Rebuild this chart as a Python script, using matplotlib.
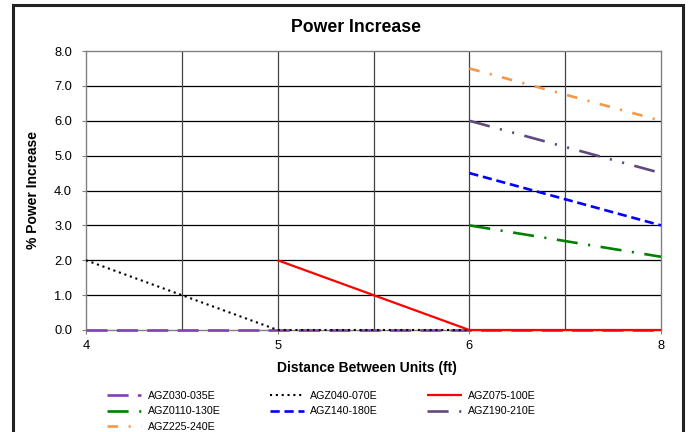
import matplotlib
matplotlib.use("Agg")
import matplotlib.pyplot as plt
import numpy as np
from matplotlib.patches import Rectangle

plt.rcParams['font.family'] = ['Liberation Sans', 'DejaVu Sans']

# category axis (Excel style), labels shown every second category
categories = ["4", "4.5", "5", "5.5", "6", "7", "8"]
nan = np.nan
agz030_035 = [0, 0, 0, 0, 0, 0, 0]
agz040_070 = [2.0, 1.0, 0, 0, 0, nan, nan]
agz075_100 = [nan, nan, 2.0, 1.0, 0, 0, 0]
agz0110_130 = [nan, nan, nan, nan, 3.0, 2.55, 2.1]
agz140_180 = [nan, nan, nan, nan, 4.5, 3.75, 3.0]
agz190_210 = [nan, nan, nan, nan, 6.0, 5.25, 4.5]
agz225_240 = [nan, nan, nan, nan, 7.5, 6.75, 6.0]

W, H = 688, 432
fig = plt.figure(figsize=(W / 100, H / 100), dpi=100)
ax = fig.add_axes([86 / W, 1 - 330 / H, (661 - 86) / W, (330 - 51) / H])

x = np.arange(len(categories))

series = [
    ("AGZ030-035E", agz030_035, dict(color='#7F40B0', lw=1.9, dashes=(8, 3.5))),
    ("AGZ040-070E", agz040_070, dict(color='black', lw=1.5, dashes=(1, 1.8))),
    ("AGZ075-100E", agz075_100, dict(color='#FF0000', lw=1.6)),
    ("AGZ0110-130E", agz0110_130, dict(color='#008000', lw=1.9, dashes=(8, 4, 0.8, 4))),
    ("AGZ140-180E", agz140_180, dict(color='#0000FF', lw=1.9, dashes=(3.5, 1.8))),
    ("AGZ190-210E", agz190_210, dict(color='#604A7B', lw=1.9, dashes=(8, 4, 0.8, 4, 0.8, 4))),
    ("AGZ225-240E", agz225_240, dict(color='#F79646', lw=1.9, dashes=(4, 4, 0.8, 4))),
]

handles = {}
for name, vals, style in series:
    ln, = ax.plot(x, vals, label=name, solid_capstyle='butt', dash_capstyle='butt',
                  clip_on=False, zorder=3, **style)
    handles[name] = ln

ax.set_xlim(0, len(categories) - 1)
ax.set_ylim(0, 8)
ax.set_yticks(np.arange(0, 8.1, 1.0))
ax.set_yticklabels([f"{v:.1f}" for v in np.arange(0, 8.1, 1.0)], fontsize=9.3)
ax.set_xticks(x[::2])
ax.set_xticklabels(categories[:3:2] + categories[4::2], fontsize=9.3)
ax.tick_params(axis='both', which='major', length=3, width=0.8, color='#808080')
ax.tick_params(axis='y', pad=7)
ax.tick_params(axis='x', pad=4)

for v in np.arange(1, 8):
    ax.axhline(v, color='black', lw=0.9, zorder=0.5)
for v in x[1:-1]:
    ax.axvline(v, color='#444444', lw=0.9, zorder=0.5)
for s in ax.spines.values():
    s.set_color('#808080')
    s.set_linewidth(1.0)

fig.text(356 / W, 1 - 28 / H, "Power Increase", ha='center', va='center',
         fontsize=12.7, fontweight='bold')
fig.text(33 / W, 1 - 190 / H, "% Power Increase", ha='center', va='center',
         rotation=90, fontsize=10, fontweight='bold')
fig.text(367 / W, 1 - 368 / H, "Distance Between Units (ft)", ha='center', va='center',
         fontsize=10, fontweight='bold')

# legend filled column by column, so reorder to read across rows
order = ["AGZ030-035E", "AGZ0110-130E", "AGZ225-240E", "AGZ040-070E",
         "AGZ140-180E", "AGZ075-100E", "AGZ190-210E"]
fig.legend([handles[n] for n in order], order, ncol=3, loc='upper left',
           bbox_to_anchor=(107 / W, 1 - 391 / H), frameon=False, fontsize=7.7,
           borderpad=0, borderaxespad=0, handlelength=3.2, handletextpad=0.6,
           columnspacing=4.6, labelspacing=0.5)

# chart area border
fig.patches.append(Rectangle((13 / W, -0.05), (683 - 13) / W, 1.05 - 5 / H,
                             transform=fig.transFigure, fill=False,
                             edgecolor='#222222', lw=2.2))

fig.savefig("out.png", dpi=100)
